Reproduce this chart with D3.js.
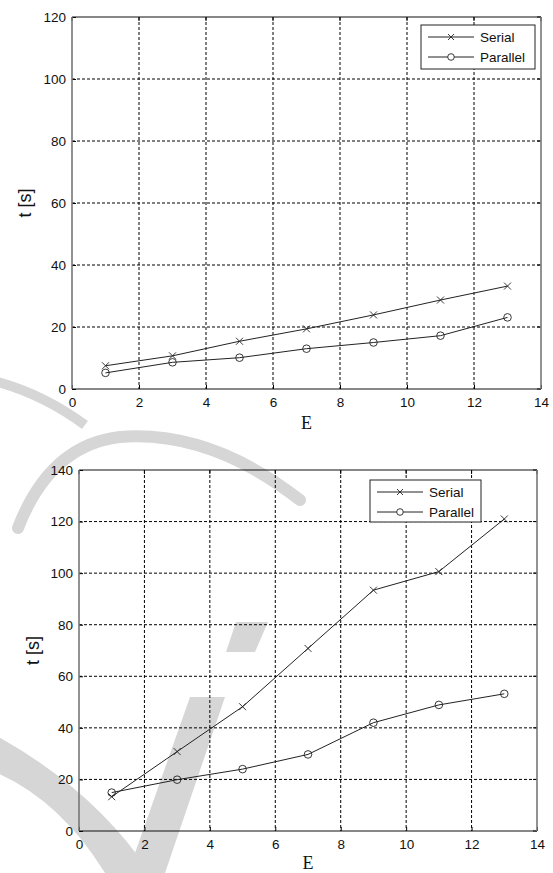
<!DOCTYPE html>
<html><head><meta charset="utf-8">
<script src="https://cdn.jsdelivr.net/npm/d3@7"></script>
<style>
html,body{margin:0;padding:0;background:#fff;}
svg{display:block;}
</style></head>
<body>
<svg id="c" width="553" height="873"></svg>
<script>
// Data
const E = [1, 3, 5, 7, 9, 11, 13];
const serial1 = [7.5, 10.7, 15.4, 19.4, 23.9, 28.7, 33.2];
const parallel1 = [5.2, 8.6, 10.1, 13.0, 15.0, 17.2, 23.1];
const serial2 = [13.3, 30.8, 48.2, 70.8, 93.4, 100.6, 121.0];
const parallel2 = [14.9, 19.9, 24.0, 29.7, 42.0, 48.9, 53.2];
const xTicks = [0, 2, 4, 6, 8, 10, 12, 14];
const yTicks1 = [0, 20, 40, 60, 80, 100, 120];
const yTicks2 = [0, 20, 40, 60, 80, 100, 120, 140];
const seriesNames = ["Serial", "Parallel"];

const svg = d3.select("#c");

// faint background watermark shapes
const wm = svg.append("g").attr("fill", "#d6d6d6").attr("stroke", "none");
wm.append("path").attr("d", "M18,528 Q50,445 120,437 Q210,430 300,500").attr("fill", "none")
  .attr("stroke", "#d6d6d6").attr("stroke-width", 12).attr("stroke-linecap", "round");
wm.append("path").attr("d", "M-10,380 Q40,392 85,425").attr("fill", "none")
  .attr("stroke", "#d6d6d6").attr("stroke-width", 10);
wm.append("path").attr("d", "M-5,772 Q60,800 105,873 L150,873 Q95,790 -5,735 Z");
wm.append("path").attr("d", "M190,697 L225,697 L165,873 L128,873 Z");
wm.append("path").attr("d", "M236,622 L268,622 L255,652 L226,652 Z");

function drawChart(cfg) {
  const {left, right, top, bottom, yMax, yTicks, serial, parallel, legend, yLabelX, eLabelY} = cfg;
  const x = d3.scaleLinear().domain([0, 14]).range([left, right]);
  const y = d3.scaleLinear().domain([0, yMax]).range([bottom, top]);
  const g = svg.append("g");

  // grid
  g.append("g").selectAll("line.vx").data(xTicks.slice(1, -1)).join("line")
    .attr("x1", d => x(d)).attr("x2", d => x(d)).attr("y1", top).attr("y2", bottom)
    .attr("stroke", "#000").attr("stroke-width", 1).attr("stroke-dasharray", "3,2");
  g.append("g").selectAll("line.hy").data(yTicks.slice(1, -1)).join("line")
    .attr("x1", left).attr("x2", right).attr("y1", d => y(d)).attr("y2", d => y(d))
    .attr("stroke", "#000").attr("stroke-width", 1).attr("stroke-dasharray", "3,2");

  // axes
  const xa = g.append("g").attr("transform", `translate(0,${bottom})`)
    .call(d3.axisBottom(x).tickValues(xTicks).tickSize(-4).tickPadding(8).tickFormat(d3.format("d")));
  const ya = g.append("g").attr("transform", `translate(${left},0)`)
    .call(d3.axisLeft(y).tickValues(yTicks).tickSize(-4).tickPadding(6).tickFormat(d3.format("d")));
  [xa, ya].forEach(a => {
    a.select(".domain").remove();
    a.selectAll("text").attr("font-family", "Liberation Sans, Arial, sans-serif").attr("font-size", 13.5).attr("fill", "#111");
    a.selectAll("line").attr("stroke", "#000");
  });
  // top & right ticks
  g.append("g").selectAll("line").data(xTicks).join("line")
    .attr("x1", d => x(d)).attr("x2", d => x(d)).attr("y1", top).attr("y2", top + 4).attr("stroke", "#000");
  g.append("g").selectAll("line").data(yTicks).join("line")
    .attr("x1", right).attr("x2", right - 4).attr("y1", d => y(d)).attr("y2", d => y(d)).attr("stroke", "#000");

  // frame
  g.append("line").attr("x1", left).attr("x2", right).attr("y1", top).attr("y2", top).attr("stroke", "#111");
  g.append("line").attr("x1", left).attr("x2", right).attr("y1", bottom).attr("y2", bottom).attr("stroke", "#111").attr("stroke-width", 1.2);
  g.append("line").attr("x1", left).attr("x2", left).attr("y1", top).attr("y2", bottom).attr("stroke", "#777").attr("stroke-width", 1.6);
  g.append("line").attr("x1", right).attr("x2", right).attr("y1", top).attr("y2", bottom).attr("stroke", "#777").attr("stroke-width", 1.6);

  const line = d3.line().x((d, i) => x(E[i])).y(d => y(d));
  [serial, parallel].forEach((s, k) => {
    g.append("path").datum(s).attr("d", line).attr("fill", "none").attr("stroke", "#222").attr("stroke-width", 1);
    const pts = g.append("g").selectAll("g").data(s).join("g")
      .attr("transform", (d, i) => `translate(${x(E[i])},${y(d)})`);
    if (k === 0) {
      pts.append("path").attr("d", "M-3.5,-3.5L3.5,3.5M-3.5,3.5L3.5,-3.5").attr("stroke", "#222").attr("stroke-width", 0.9);
    } else {
      pts.append("circle").attr("r", 3.8).attr("fill", "none").attr("stroke", "#222").attr("stroke-width", 0.9);
    }
  });

  // legend
  const L = legend;
  g.append("rect").attr("x", L.x).attr("y", L.y).attr("width", L.w).attr("height", L.h)
    .attr("fill", "#fff").attr("stroke", "#222").attr("stroke-width", 1);
  seriesNames.forEach((n, k) => {
    const yy = L.y + 12 + k * 20;
    g.append("line").attr("x1", L.x + 7).attr("x2", L.x + 53).attr("y1", yy).attr("y2", yy).attr("stroke", "#222");
    const cx = L.x + 30;
    if (k === 0) g.append("path").attr("d", `M${cx-3},${yy-3}L${cx+3},${yy+3}M${cx-3},${yy+3}L${cx+3},${yy-3}`).attr("stroke", "#222").attr("stroke-width", 0.9);
    else g.append("circle").attr("cx", cx).attr("cy", yy).attr("r", 3.3).attr("fill", "#fff").attr("stroke", "#222").attr("stroke-width", 0.9);
    g.append("text").attr("x", L.x + 59).attr("y", yy + 4.5).text(n)
      .attr("font-family", "Liberation Sans, Arial, sans-serif").attr("font-size", 13.5).attr("fill", "#111");
  });

  // axis labels
  g.append("text").attr("x", (left + right) / 2 + 0).attr("y", eLabelY).attr("text-anchor", "middle")
    .attr("font-family", "Liberation Serif, Times New Roman, serif").attr("font-size", 18).attr("fill", "#111").text("E");
  g.append("text").attr("transform", `translate(${yLabelX},${(top + bottom) / 2}) rotate(-90)`)
    .attr("text-anchor", "middle").attr("font-family", "Liberation Sans, Arial, sans-serif").attr("font-size", 18).attr("fill", "#111").text("t [s]");
}

drawChart({left: 72, right: 541, top: 17, bottom: 389, yMax: 120, yTicks: yTicks1,
  serial: serial1, parallel: parallel1, legend: {x: 421, y: 25, w: 114, h: 44}, yLabelX: 31, eLabelY: 429});
drawChart({left: 79, right: 537, top: 470, bottom: 831, yMax: 140, yTicks: yTicks2,
  serial: serial2, parallel: parallel2, legend: {x: 370, y: 480, w: 111, h: 42}, yLabelX: 39, eLabelY: 869});
</script>
</body></html>
